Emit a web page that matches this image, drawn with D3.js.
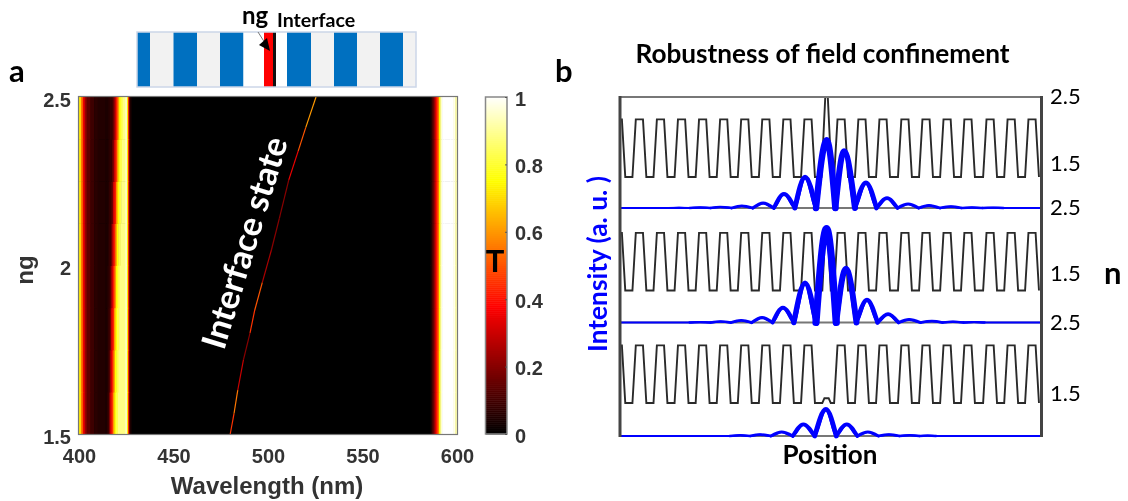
<!DOCTYPE html>
<html>
<head>
<meta charset="utf-8">
<script src="https://cdn.jsdelivr.net/npm/d3@7"></script>
<style>
  html, body { margin: 0; padding: 0; background: #fff; }
  svg { display: block; filter: blur(0.4px); }
  .matlab { font-family: "Liberation Sans", Arial, sans-serif; font-weight: bold; fill: #333; }
  .cal { font-family: Lato, sans-serif; fill: #000; }
</style>
</head>
<body>
<svg id="chart" width="1128" height="501"></svg>
<script>
"use strict";

// Panel a: transmission against wavelength
const waveTicks = [400, 450, 500, 550, 600];
const ngTicks = [1.5, 2, 2.5];
const colorTicks = [0, 0.2, 0.4, 0.6, 0.8, 1];

const leftBandWave = [400, 401, 402, 403, 404, 406, 408, 410, 414, 415.3, 416.4, 418, 419, 419.8, 420.6, 421.4, 422.2, 423.3, 424.3, 424.9, 425.4, 426, 426.5, 427, 427.5];
const leftBandT = [0.72, 0.55, 0.35, 0.22, 0.14, 0.09, 0.06, 0.05, 0.04, 0.05, 0.08, 0.15, 0.3, 0.42, 0.6, 0.75, 0.82, 0.88, 0.92, 0.95, 0.72, 0.42, 0.15, 0.04, 0];
const rightBandWave = [586, 587, 588.1, 588.9, 589.7, 590.5, 591.2, 592.1, 593.4, 596.3, 597.9, 599, 600];
const rightBandT = [0.05, 0.15, 0.3, 0.4, 0.55, 0.75, 0.95, 1, 1, 1, 0.98, 0.92, 0.85];

// the long wavelength flank of the left band creeps towards 400 as ng drops
const ngRows = [1.5, 1.625, 1.75, 1.875, 2, 2.125, 2.25, 2.375, 2.5];
const flankShift = [2.7, 2.4, 2.1, 1.8, 1.4, 1, 0.6, 0.2];

const stateWave = [480, 482, 484, 487, 490.5, 493, 497, 501.8, 506, 511, 516, 520, 525.4];
const stateNg = [1.5, 1.56, 1.63, 1.72, 1.8, 1.868, 1.95, 2.046, 2.14, 2.254, 2.34, 2.41, 2.5];
const stateT = [0.45, 0.55, 0.3, 0.2, 0.45, 0.5, 0.25, 0.2, 0.2, 0.35, 0.5, 0.6, 0.5];

// the layer stack above panel a
const stackEdges = [0, 13, 36.5, 60, 83, 106.5, 127, 136, 139, 150, 174, 197, 220, 243, 266, 279];
const stackFills = ["#0070c0", "#f2f2f2", "#0070c0", "#f2f2f2", "#0070c0", "#ffffff", "#ff0000", "#111111", "#ffffff", "#0070c0", "#f2f2f2", "#0070c0", "#f2f2f2", "#0070c0", "#f2f2f2"];

// Panel b: index profile, position is in grating periods from the interface
const layerTops = [-9.88, -8.88, -7.88, -6.88, -5.88, -4.88, -3.88, -2.88, -1.88, -0.88, 0.69, 1.68, 2.68, 3.72, 4.72, 5.72, 6.71, 7.76, 8.76, 9.75];
const nLow = 1.5, nHigh = 2.22;
const row1Interface = [[-0.24, 1.5], [-0.06, 2.5], [0.06, 2.5], [0.24, 1.5]];
const row2Interface = [[-0.2, 1.5], [-0.06, 2.22], [0.06, 2.22], [0.2, 1.5]];
const row3Interface = [[-0.2, 1.5], [-0.1, 1.56], [0.1, 1.56], [0.2, 1.5]];

// field intensity, peaks and the zeros between them
const row1Field = [[-9.8, 0], [-7.5, 0], [-7, 0.003], [-6.5, 0], [-6, 0.007], [-5.5, 0], [-5.05, 0.014], [-4.5, 0], [-4.02, 0.03], [-3.5, 0], [-3.01, 0.07], [-2.5, 0], [-2.02, 0.2], [-1.5, 0], [-1.02, 0.44], [-0.5, 0], [0.01, 0.97], [0.42, 0], [0.83, 0.81], [1.35, 0], [1.87, 0.36], [2.37, 0], [2.87, 0.14], [3.37, 0], [3.87, 0.057], [4.37, 0], [4.86, 0.036], [5.38, 0], [5.9, 0.02], [6.4, 0], [6.9, 0.008], [7.4, 0], [7.9, 0.004], [8.4, 0], [10.2, 0]];
const row2Field = [[-9.8, 0], [-6.5, 0], [-6, 0.005], [-5.5, 0], [-5.03, 0.014], [-4.54, 0], [-4.05, 0.03], [-3.55, 0], [-3.06, 0.07], [-2.56, 0], [-2.07, 0.21], [-1.55, 0], [-1.02, 0.56], [-0.5, 0], [0, 1.34], [0.46, 0], [0.92, 0.77], [1.42, 0], [1.92, 0.32], [2.42, 0], [2.92, 0.12], [3.42, 0], [3.92, 0.043], [4.46, 0], [5, 0.02], [5.5, 0], [6, 0.012], [6.5, 0], [7, 0.006], [7.5, 0], [10.2, 0]];
const row3Field = [[-9.8, 0], [-4.6, 0], [-4.1, 0.01], [-3.62, 0], [-3.15, 0.02], [-2.64, 0], [-2.13, 0.057], [-1.6, 0], [-1.1, 0.165], [-0.56, 0], [-0.03, 0.38], [0.46, 0], [0.96, 0.165], [1.46, 0], [1.96, 0.057], [2.46, 0], [2.96, 0.02], [3.46, 0], [3.95, 0.012], [4.4, 0], [4.8, 0.006], [5.2, 0], [10.2, 0]];

const rowLabels = [["2.5", 96], ["1.5", 163], ["2.5", 207], ["1.5", 273], ["2.5", 322], ["1.5", 393]];

const svg = d3.select("#chart");

// Scales
const hot = d3.scaleLinear()
  .domain([0, 0.375, 0.75, 1])
  .range(["#000000", "#ff0000", "#ffff00", "#ffffff"])
  .clamp(true);

const plotA = { left: 79, right: 457, top: 97, bottom: 434 };
const x = d3.scaleLinear().domain([400, 600]).range([plotA.left, plotA.right]);
const y = d3.scaleLinear().domain([1.5, 2.5]).range([plotA.bottom, plotA.top]);
const c = d3.scaleLinear().domain([0, 1]).range([434, 97]);

// Heat map
const blur = svg.append("defs").append("filter").attr("id", "soft");
blur.append("feGaussianBlur").attr("stdDeviation", 0.5);

svg.append("clipPath").attr("id", "clip-a").append("rect")
  .attr("x", plotA.left).attr("y", plotA.top)
  .attr("width", plotA.right - plotA.left).attr("height", plotA.bottom - plotA.top);

const heat = svg.append("g").attr("clip-path", "url(#clip-a)");
const heatInner = heat.append("g").attr("filter", "url(#soft)");

heatInner.append("rect")
  .attr("x", plotA.left - 5).attr("y", plotA.top - 5)
  .attr("width", plotA.right - plotA.left + 10).attr("height", plotA.bottom - plotA.top + 10)
  .attr("fill", "#000");

function bandCells(waves, ts, ng0, ng1, shift) {
  const moved = waves.map((w) => {
    if (w >= 414 && w < 419) return w - shift * (w - 414) / 5;
    if (w >= 419 && w <= 424) return w - shift;
    return w;
  });
  heatInner.append("g").selectAll("rect")
    .data(moved.slice(0, -1))
    .enter()
    .append("rect")
    .attr("x", (d) => x(d))
    .attr("y", y(ng1))
    .attr("width", (d, i) => x(moved[i + 1]) - x(d) + 0.5)
    .attr("height", y(ng0) - y(ng1) + 0.5)
    .attr("fill", (d, i) => hot(ts[i]));
}

ngRows.slice(0, -1).forEach((ng, i) => {
  bandCells(leftBandWave, leftBandT, ng, ngRows[i + 1], flankShift[i]);
  bandCells(rightBandWave.concat([603]), rightBandT.concat([0.85]), ng, ngRows[i + 1], 0);
});

// Interface state line
heat.append("g").selectAll("line")
  .data(stateWave.slice(0, -1))
  .enter()
  .append("line")
  .attr("x1", (d) => x(d))
  .attr("y1", (d, i) => y(stateNg[i]))
  .attr("x2", (d, i) => x(stateWave[i + 1]))
  .attr("y2", (d, i) => y(stateNg[i + 1]))
  .attr("stroke", (d, i) => hot(stateT[i]))
  .attr("stroke-width", 1.2);

svg.append("rect")
  .attr("x", plotA.left - 0.5).attr("y", plotA.top - 0.5)
  .attr("width", plotA.right - plotA.left + 1).attr("height", plotA.bottom - plotA.top + 1)
  .attr("fill", "none").attr("stroke", "#777").attr("stroke-width", 1.2);

// Axes of panel a
const xAxis = d3.axisBottom(x).tickValues(waveTicks).tickSize(0).tickPadding(15);
const gX = svg.append("g").attr("transform", "translate(0," + plotA.bottom + ")").call(xAxis);
const yAxis = d3.axisLeft(y).tickValues(ngTicks).tickSize(0).tickPadding(8).tickFormat(d3.format("~g"));
const gY = svg.append("g").attr("transform", "translate(" + plotA.left + ",0)").call(yAxis);
[gX, gY].forEach((g) => {
  g.select(".domain").remove();
  g.selectAll("text").attr("class", "matlab").attr("font-size", 20).attr("fill", null);
});
gY.selectAll("text").attr("dy", "0.55em").attr("y", -2);

svg.append("text").attr("class", "matlab")
  .attr("x", 267).attr("y", 494).attr("text-anchor", "middle")
  .attr("font-size", 24).text("Wavelength (nm)");
svg.append("text").attr("class", "matlab")
  .attr("transform", "translate(33,270) rotate(-90)").attr("text-anchor", "middle")
  .attr("font-size", 24).text("ng");

// Colour bar
svg.append("g").selectAll("rect")
  .data(d3.range(0, 1, 1 / 170))
  .enter()
  .append("rect")
  .attr("x", 486).attr("width", 21)
  .attr("y", (d) => c(d + 1 / 170))
  .attr("height", 2.5)
  .attr("fill", (d) => hot(d));
svg.append("rect")
  .attr("x", 485.5).attr("y", 97)
  .attr("width", 21.5).attr("height", 337)
  .attr("fill", "none").attr("stroke", "#888").attr("stroke-width", 1.5);

const cAxis = d3.axisRight(c).tickValues(colorTicks).tickSize(-2).tickPadding(9).tickFormat(d3.format("~g"));
const gC = svg.append("g").attr("transform", "translate(507,0)").call(cAxis);
gC.select(".domain").remove();
gC.selectAll("line").attr("stroke", "#555");
gC.selectAll("text").attr("class", "matlab").attr("font-size", 20).attr("fill", null);
gC.selectAll("text").attr("x", 8).attr("dy", "0.4em");

svg.append("text").attr("class", "cal")
  .attr("x", 495).attr("y", 272).attr("text-anchor", "middle")
  .attr("font-size", 31).attr("font-weight", "bold").text("T");

svg.append("text").attr("class", "cal")
  .attr("transform", "translate(224,351) rotate(-73)")
  .attr("font-size", 34).attr("font-weight", "bold")
  .style("fill", "#fff").text("Interface state");

// Layer stack
const stack = svg.append("g").attr("transform", "translate(137,32)");
stack.selectAll("rect")
  .data(stackFills)
  .enter()
  .append("rect")
  .attr("x", (d, i) => stackEdges[i])
  .attr("y", 0)
  .attr("width", (d, i) => stackEdges[i + 1] - stackEdges[i])
  .attr("height", 55)
  .attr("fill", (d) => d);
stack.append("rect")
  .attr("width", 279).attr("height", 55)
  .attr("fill", "none").attr("stroke", "#ccd6e8").attr("stroke-width", 1.5);

svg.append("line")
  .attr("x1", 258).attr("y1", 32).attr("x2", 265).attr("y2", 43)
  .attr("stroke", "#777").attr("stroke-width", 1);
svg.append("path")
  .attr("d", d3.line()([[270, 51], [259, 45], [267, 38]]) + "Z")
  .attr("fill", "#000");

svg.append("text").attr("class", "cal")
  .attr("x", 242).attr("y", 24)
  .attr("font-size", 24).attr("font-weight", "bold").text("ng");
svg.append("text").attr("class", "cal")
  .attr("x", 277).attr("y", 27)
  .attr("font-size", 19.6).attr("font-weight", "bold").text("Interface");

svg.append("text").attr("class", "cal")
  .attr("x", 9).attr("y", 82)
  .attr("font-size", 31).attr("font-weight", "bold").text("a");
svg.append("text").attr("class", "cal")
  .attr("x", 555).attr("y", 82)
  .attr("font-size", 31).attr("font-weight", "bold").text("b");

// Panel b
const px = d3.scaleLinear().domain([-9.8, 10.2]).range([620, 1041.5]);
const widthOf = d3.scaleSqrt().domain([0, 1]).range([2, 6.5]);
const rowsB = [
  { face: row1Interface, field: row1Field, nY: 177, base: 208 },
  { face: row2Interface, field: row2Field, nY: 290.5, base: 322.5 },
  { face: row3Interface, field: row3Field, nY: 403, base: 436 }
];

svg.append("clipPath").attr("id", "clip-b").append("rect")
  .attr("x", 620).attr("y", 90).attr("width", 421.5).attr("height", 350);

const rowsG = svg.append("g");

rowsB.forEach((row) => {
  const ny = d3.scaleLinear().domain([1.5, 2.5]).range([row.nY, row.nY - 80]);
  const iy = d3.scaleLinear().domain([0, 1]).range([row.base, row.base - 70]);

  const profile = [];
  layerTops.forEach((t, i) => {
    profile.push([t - 0.33, nLow], [t - 0.17, nHigh], [t + 0.17, nHigh], [t + 0.33, nLow]);
    if (t === -0.88) profile.push(...row.face);
  });

  rowsG.append("path")
    .attr("clip-path", "url(#clip-b)")
    .attr("d", d3.line().x((d) => px(d[0])).y((d) => ny(d[1]))(profile))
    .attr("fill", "none")
    .attr("stroke", "#2a2a2a")
    .attr("stroke-width", 1.9);

  svg.append("line")
    .attr("x1", 620).attr("x2", 1041.5).attr("y1", row.base).attr("y2", row.base)
    .attr("stroke", "#777").attr("stroke-width", 2);

  const fieldLine = d3.line()
    .x((d) => px(d[0]))
    .y((d) => iy(d[1]))
    .curve(d3.curveMonotoneX);

  // the trace looks heavier the taller the hump is, so each hump gets its own width
  svg.append("path")
    .attr("d", fieldLine(row.field))
    .attr("fill", "none").attr("stroke", "#0000ff").attr("stroke-width", 2);
  row.field.forEach((d, i) => {
    if (d[1] === 0) return;
    svg.append("path")
      .attr("d", fieldLine(row.field.slice(i - 1, i + 2)))
      .attr("fill", "none")
      .attr("stroke", "#0000ff")
      .attr("stroke-linecap", "round")
      .attr("stroke-width", widthOf(d[1]));
  });
});

// Frame of panel b
svg.append("line").attr("x1", 619).attr("x2", 1042).attr("y1", 97).attr("y2", 97)
  .attr("stroke", "#777").attr("stroke-width", 2);
[620, 1041.5].forEach((fx) => {
  svg.append("line").attr("x1", fx).attr("x2", fx).attr("y1", 96).attr("y2", 437)
    .attr("stroke", "#444").attr("stroke-width", 3);
});

svg.append("g").selectAll("text")
  .data(rowLabels)
  .enter()
  .append("text")
  .attr("class", "cal")
  .attr("x", 1050)
  .attr("y", (d) => d[1])
  .attr("dy", "0.36em")
  .attr("font-size", 22)
  .text((d) => d[0]);

svg.append("text").attr("class", "cal")
  .attr("x", 1104).attr("y", 284)
  .attr("font-size", 31).attr("font-weight", "bold").text("n");
svg.append("text").attr("class", "cal")
  .attr("x", 822.5).attr("y", 63).attr("text-anchor", "middle")
  .attr("font-size", 26.2).attr("font-weight", "bold").text("Robustness of field confinement");
svg.append("text").attr("class", "cal")
  .attr("x", 830).attr("y", 464).attr("text-anchor", "middle")
  .attr("font-size", 26).attr("font-weight", "bold").text("Position");
svg.append("text").attr("class", "cal")
  .attr("transform", "translate(607,264) rotate(-90)").attr("text-anchor", "middle")
  .attr("font-size", 26.3).attr("font-weight", "bold")
  .style("fill", "#0000ff").text("Intensity (a. u. )");
</script>
</body>
</html>
